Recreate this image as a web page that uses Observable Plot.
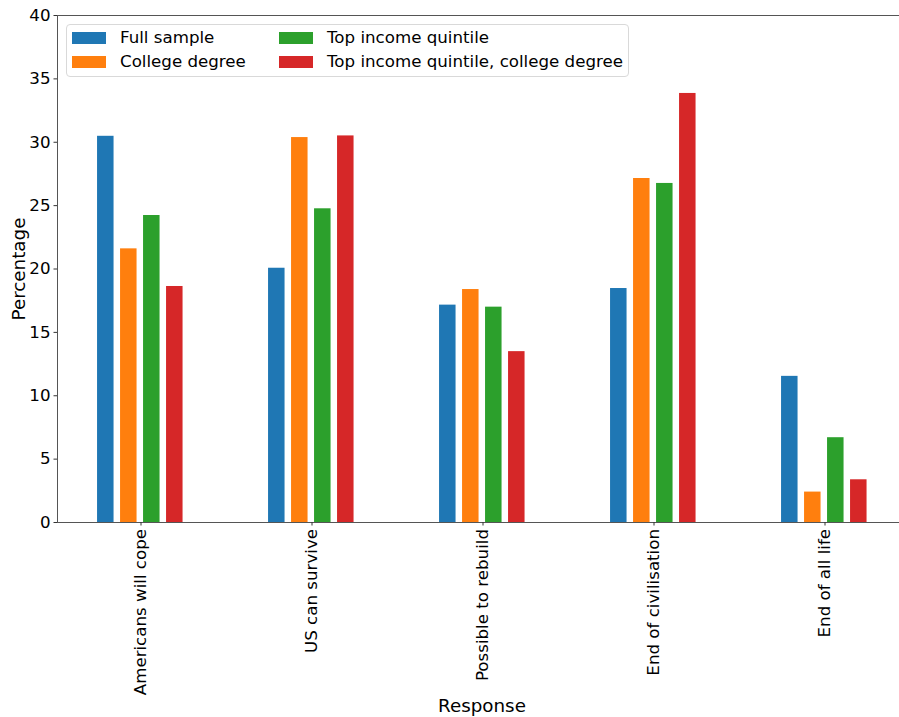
<!DOCTYPE html>
<html><head><meta charset="utf-8">
<script src="https://cdn.jsdelivr.net/npm/d3@7"></script>
<script src="https://cdn.jsdelivr.net/npm/@observablehq/plot@0.6"></script>
<style>
body{margin:0;background:#fff;font-family:"DejaVu Sans",sans-serif;}
#wrap{position:relative;width:899px;height:717px;overflow:hidden;}
.legend{position:absolute;left:66px;top:24px;width:561px;height:51px;border:1px solid #d9d9d9;border-radius:4px;background:rgba(255,255,255,0.8);font-size:16.67px;color:#000;}
.item{position:absolute;display:flex;align-items:center;height:24px;white-space:nowrap;}
.sw{width:34px;height:12px;margin-right:14px;flex:none;}
</style></head><body><div id="wrap"></div>
<script>
const categories = ["Americans will cope","US can survive","Possible to rebuild","End of civilisation","End of all life"];
const seriesNames = ["Full sample","College degree","Top income quintile","Top income quintile, college degree"];
const fullSample = [30.47, 20.06, 17.15, 18.46, 11.53];
const collegeDegree = [21.59, 30.37, 18.38, 27.14, 2.4];
const topIncome = [24.22, 24.75, 16.99, 26.75, 6.69];
const topIncomeCollege = [18.62, 30.5, 13.48, 33.85, 3.37];
const colors = ["#1f77b4","#ff7f0e","#2ca02c","#d62728"];
const yTicks = [0,5,10,15,20,25,30,35,40];

const seriesValues = [fullSample, collegeDegree, topIncome, topIncomeCollege];
const table = [];
seriesNames.forEach((s, i) => categories.forEach((c, j) => table.push({category: c, series: s, value: seriesValues[i][j]})));

const marks = [];
seriesNames.forEach((s, i) => {
  marks.push(Plot.barY(table.filter(d => d.series === s), {
    x: "category", y: "value", fill: "series",
    dx: (i - 1.5) * 23 - 0.7, insetLeft: 77.25, insetRight: 77.25
  }));
});

const chart = Plot.plot({
  width: 899, height: 717,
  marginLeft: 57, marginRight: 0, marginTop: 15, marginBottom: 195,
  style: {fontFamily: "DejaVu Sans", fontSize: "16.67px", color: "#000", background: "#fff"},
  x: {domain: categories, range: [53.55, 911.05], padding: 0},
  y: {domain: [0, 40]},
  color: {domain: seriesNames, range: colors},
  marks: [
    ...marks,
    Plot.ruleY([0, 40], {stroke: "#555", strokeWidth: 1}),
    Plot.frame({anchor: "left", stroke: "#555", strokeWidth: 1}),
    Plot.axisY({ticks: yTicks, tickSize: 3.5, tickPadding: 3.5, fontSize: 16.67, label: null, stroke: "#333"}),
    Plot.axisX({tickRotate: -90, tickSize: 3.5, tickPadding: 3, fontSize: 16.67, label: null, stroke: "#333"}),
    Plot.text(["Percentage"], {text: d => d, frameAnchor: "left", textAnchor: "middle", lineAnchor: "middle", rotate: -90, dx: -38, fontSize: 18.3, fill: "#000"}),
    Plot.text(["Response"], {text: d => d, frameAnchor: "bottom", textAnchor: "middle", lineAnchor: "bottom", dx: 3.5, dy: 189, fontSize: 18.3, fill: "#000"})
  ]
});
const wrap = document.getElementById("wrap");
wrap.appendChild(chart);

const legend = document.createElement("div");
legend.className = "legend";
const pos = [[5, 0.5], [5, 24.5], [212, 0.5], [212, 24.5]];
seriesNames.forEach((s, i) => {
  const it = document.createElement("div");
  it.className = "item";
  it.style.left = pos[i][0] + "px";
  it.style.top = pos[i][1] + "px";
  const sw = document.createElement("span");
  sw.className = "sw";
  sw.style.background = colors[i];
  const tx = document.createElement("span");
  tx.textContent = s;
  it.appendChild(sw); it.appendChild(tx);
  legend.appendChild(it);
});
wrap.appendChild(legend);
</script>
</body></html>
